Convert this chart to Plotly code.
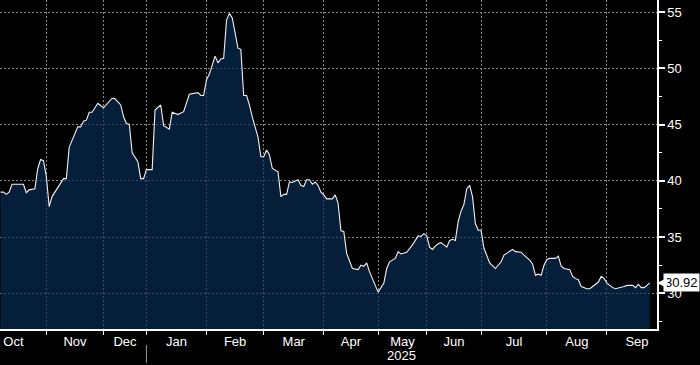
import numpy as np
import plotly.graph_objects as go

# ---- data -------------------------------------------------------------
month_names = ["Oct", "Nov", "Dec", "Jan", "Feb", "Mar", "Apr", "May", "Jun", "Jul", "Aug", "Sep"]
sessions_per_month = [23, 20, 15, 21, 20, 21, 19, 17, 19, 23, 21, 21]   # trading sessions per month (Oct 2024 - Sep 2025)
year_start_month = "Jan"
year_label = "2025"

# session index (0 = first session of Oct 2024) and closing values
session_idx = [
    7, 8, 9, 10, 11, 15, 16, 17, 19, 20, 21, 22, 23, 24, 25, 26, 27, 29, 30, 31,
    32, 34, 35, 36, 37, 38, 39, 41, 42, 43, 46, 47, 49, 50, 51, 52, 53, 55, 56, 57,
    58, 60, 61, 63, 64, 66, 67, 69, 71, 73, 76, 77, 78, 79, 80, 82, 83, 84, 85, 86,
    87, 88, 90, 91, 92, 93, 94, 95, 97, 98, 99, 100, 101, 102, 104, 105, 106, 107, 108, 109,
    111, 112, 113, 114, 115, 116, 117, 118, 119, 120, 121, 123, 124, 125, 126, 127, 128, 129, 130, 132,
    133, 134, 135, 136, 138, 139, 141, 142, 143, 145, 146, 147, 149, 151, 153, 154, 155, 156, 157, 158,
    159, 160, 161, 163, 164, 165, 166, 167, 168, 169, 170, 171, 172, 173, 174, 175, 176, 177, 178, 180,
    181, 182, 183, 185, 186, 187, 189, 190, 192, 193, 194, 195, 196, 197, 198, 199, 201, 202, 203, 204,
    206, 207, 208, 209, 210, 212, 213, 214, 216, 217, 218, 219, 221, 222, 223, 225, 226, 228, 229, 230,
    231, 232, 234,
]
values = [
    39.0, 39.0, 38.8, 39.0, 39.7, 39.7, 38.95, 39.2, 39.3, 41.1, 41.9, 41.8, 40.4, 37.7, 38.6, 39.0, 39.3, 40.2, 40.2, 43.0,
    43.6, 44.8, 44.8, 45.3, 45.4, 46.1, 46.1, 46.9, 46.7, 46.5, 47.35, 47.3, 46.75, 45.7, 45.1, 45.05, 42.5, 41.7, 40.2, 40.2,
    41.0, 41.0, 46.3, 46.75, 44.9, 44.6, 46.1, 45.9, 46.15, 47.7, 47.85, 47.6, 47.6, 49.0, 49.5, 51.1, 50.5, 50.85, 50.9, 54.3,
    54.9, 54.5, 51.8, 51.7, 47.6, 47.6, 46.75, 45.7, 43.9, 42.15, 42.15, 42.75, 42.3, 41.1, 40.8, 38.6, 38.8, 38.8, 39.9, 39.85,
    40.1, 39.6, 39.5, 40.1, 40.1, 39.7, 39.9, 39.6, 39.0, 38.75, 38.4, 38.4, 38.75, 38.0, 35.55, 35.5, 33.55, 32.8, 32.2, 32.1,
    32.5, 32.4, 32.7, 31.9, 30.6, 30.1, 30.9, 32.2, 32.8, 33.1, 33.7, 33.5, 33.65, 34.3, 35.1, 35.05, 35.3, 35.1, 34.1, 33.9,
    34.2, 34.4, 34.5, 34.1, 34.7, 34.8, 34.7, 36.4, 37.3, 37.9, 39.3, 39.6, 38.6, 36.2, 35.6, 35.6, 34.0, 33.4, 32.7, 32.2,
    32.5, 32.8, 33.4, 33.7, 33.9, 33.7, 33.65, 33.4, 32.95, 32.6, 31.6, 31.7, 31.6, 32.5, 33.0, 33.1, 33.1, 33.3, 32.4, 32.2,
    32.1, 31.5, 31.3, 31.2, 30.6, 30.4, 30.4, 30.6, 31.0, 31.5, 31.3, 30.9, 30.5, 30.4, 30.45, 30.6, 30.7, 30.7, 30.5, 30.8,
    30.5, 30.5, 30.92,
]
y_ticks = [30, 35, 40, 45, 50, 55]

# ---- derived axis helpers ------------------------------------------------
month_starts = np.concatenate([[0], np.cumsum(sessions_per_month)[:-1]])
month_ends = np.cumsum(sessions_per_month)
month_mids = (month_starts + month_ends) / 2.0
x_range = [6.8, 236.5]
y_range = [26.82, 56.09]
jan_start = float(month_starts[month_names.index(year_start_month)])

FONT = "Liberation Sans, Arial, sans-serif"
GRID = "#8c8c8c"

fig = go.Figure()
fig.add_trace(go.Scatter(
    x=session_idx, y=values, mode="lines",
    line=dict(color="#f2f2f2", width=1.1),
    fill="tozeroy", fillcolor="rgba(7,46,86,0.66)",
    hoverinfo="skip",
))

fig.update_layout(
    width=700, height=365,
    margin=dict(l=0, r=43, t=0, b=36),
    paper_bgcolor="black", plot_bgcolor="black",
    showlegend=False,
    font=dict(family=FONT, size=13, color="white"),
    xaxis=dict(
        range=x_range, tickmode="array",
        tickvals=month_mids.tolist(), ticktext=month_names,
        ticks="", showgrid=False, zeroline=False,
        showline=True, linecolor="white", linewidth=1.5,
        tickfont=dict(size=13, color="white", family=FONT),
        minor=dict(tickmode="array", tickvals=month_starts.tolist(),
                   ticks="outside", ticklen=4, tickwidth=1, tickcolor="white",
                   showgrid=True, gridcolor=GRID, griddash="2px,2px", gridwidth=1),
    ),
    yaxis=dict(
        side="right", range=y_range, tickmode="array", tickvals=y_ticks,
        ticks="outside", ticklen=6, tickwidth=2, tickcolor="white",
        showline=True, linecolor="white", linewidth=1.5,
        showgrid=True, gridcolor=GRID, griddash="2px,2px", gridwidth=1,
        zeroline=False,
        tickfont=dict(size=13, color="white", family=FONT),
        minor=dict(dtick=2.5, tick0=0, ticks="outside", ticklen=3,
                   tickwidth=1, tickcolor="white", showgrid=False),
    ),
)

# year label centred under the 2025 part of the axis, with separator
fig.add_annotation(x=(jan_start + x_range[1]) / 2, xref="x", y=0, yref="paper",
                   yanchor="middle", yshift=-26, text=year_label, showarrow=False,
                   font=dict(size=13, color="white", family=FONT))
fig.add_shape(type="line", xref="x", yref="paper", x0=jan_start, x1=jan_start,
              y0=-0.049, y1=-0.103, line=dict(color="#9a9a9a", width=1))

# last value tag on the right axis
fig.add_annotation(x=1, xref="paper", y=values[-1], yref="y",
                   text=f"{values[-1]:.2f}", xanchor="left", yanchor="middle",
                   showarrow=True, ax=6, ay=0, arrowhead=2, arrowsize=1,
                   arrowwidth=2, arrowcolor="white", standoff=0,
                   bgcolor="white", borderpad=1,
                   font=dict(size=13, color="black", family=FONT))

fig.write_html("out.html", config={"displayModeBar": False},
               post_script="document.body.style.margin='0px';document.body.style.overflow='hidden';")
